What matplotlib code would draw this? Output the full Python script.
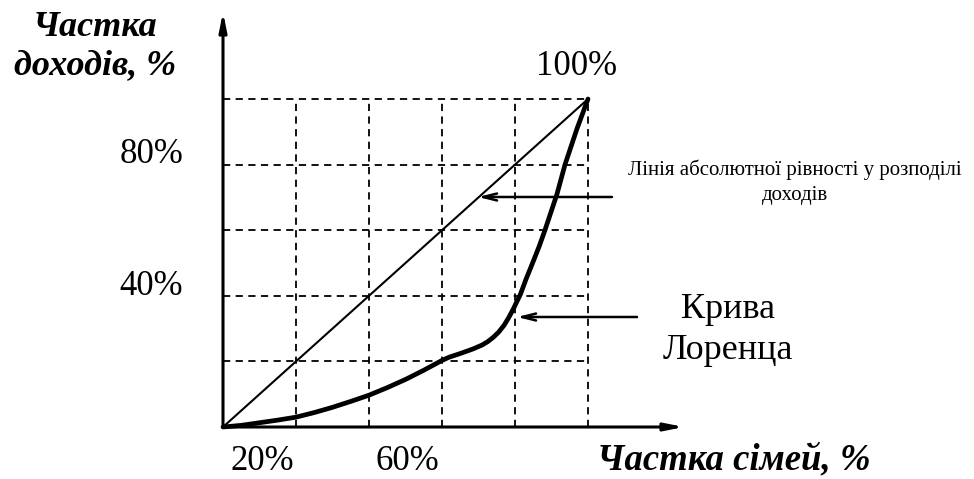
import matplotlib
matplotlib.use("Agg")
import matplotlib.pyplot as plt

# ---- data ----
grid_ticks = [20, 40, 60, 80, 100]
equality_x = [0, 100]
equality_y = [0, 100]
lorenz_x = [0, 5, 10, 15, 20, 25, 30, 35, 40, 45, 50, 55, 60, 62, 65, 68.5, 71, 72.5, 74, 75.5,
            77, 78.3, 79.5, 80.5, 81.5, 83, 85, 86.7, 88.2, 90, 91.5, 93.7, 95.5, 97, 98.5, 100]
lorenz_y = [0, 0.5, 1.3, 2.1, 3.0, 4.4, 6.0, 7.8, 9.7, 12.0, 14.5, 17.3, 20.3, 21.3, 22.4, 23.8,
            25.0, 26.0, 27.3, 28.9, 31.0, 33.4, 35.9, 38.2, 40.5, 45.0, 50.5, 55.3, 60.0, 66.0,
            71.0, 80.0, 86.0, 91.0, 95.5, 100]
y_tick_labels = ["80%", "40%"]
y_tick_py = [155, 286.5]
x_tick_labels = ["20%", "60%"]
x_tick_px = [262, 407.5]
top_label = "100%"
y_title = "Частка\nдоходів, %"
x_title = "Частка сімей, %"
eq_label = "Лінія абсолютної рівності у розподілі\nдоходів"
lorenz_label = "Крива\nЛоренца"

W, H = 974, 479
fig = plt.figure(figsize=(W / 100, H / 100), dpi=100)
ax = fig.add_axes([0, 0, 1, 1])
ax.set_axis_off()

# pixel mapping: x=0 at px 223, x=100 at px 588 ; y=0 at py 427, y=100 at py 99
sx = (588 - 223) / 100.0
sy = (427 - 99) / 100.0
ax.set_xlim(-223 / sx, (W - 223) / sx)
ax.set_ylim((427 - H) / sy, 427 / sy)

def px(p):
    return (p - 223) / sx

def py(p):
    return (427 - p) / sy

serif = ["Liberation Serif", "DejaVu Serif"]

# grid (dashed)
dash = (0, (4, 3))
for t in grid_ticks:
    ax.plot([t, t], [0, 100], color="black", lw=1.3, linestyle=dash)
    ax.plot([0, 100], [t, t], color="black", lw=1.3, linestyle=dash)

# axes with arrows
arrow_kw = dict(arrowstyle="-|>,head_length=1.1,head_width=0.22", color="black", lw=2.2,
                shrinkA=0, shrinkB=0)
ax.annotate("", xy=(0, py(12)), xytext=(0, 0), arrowprops=arrow_kw)
ax.annotate("", xy=(px(684), 0), xytext=(0, 0), arrowprops=arrow_kw)

# equality line
ax.plot(equality_x, equality_y, color="black", lw=1.5)
# Lorenz curve
ax.plot(lorenz_x, lorenz_y, color="black", lw=3.4, solid_capstyle="round", solid_joinstyle="round")

# pointer arrows
parr = dict(arrowstyle="->,head_length=1.0,head_width=0.25", color="black", lw=1.8,
            shrinkA=0, shrinkB=0)
ax.annotate("", xy=(px(478), py(197)), xytext=(px(612), py(197)), arrowprops=parr)
ax.annotate("", xy=(px(517), py(317)), xytext=(px(637), py(317)), arrowprops=parr)

# tick labels
for lab, p in zip(y_tick_labels, y_tick_py):
    ax.text(px(151.5), py(p), lab, family=serif, fontsize=25, ha="center", va="center")
for lab, p in zip(x_tick_labels, x_tick_px):
    ax.text(px(p), py(461.5), lab, family=serif, fontsize=25, ha="center", va="center")
ax.text(px(577), py(66.5), top_label, family=serif, fontsize=25, ha="center", va="center")

# titles
ax.text(px(95), py(47), y_title, family=serif, fontsize=26, fontweight="bold", fontstyle="italic",
        ha="center", va="center", linespacing=1.2)
ax.text(px(734), py(460), x_title, family=serif, fontsize=26.5, fontweight="bold", fontstyle="italic",
        ha="center", va="center")

# annotations
ax.text(px(795), py(182), eq_label, family=serif, fontsize=15, ha="center", va="center",
        linespacing=1.4)
ax.text(px(728), py(330), lorenz_label, family=serif, fontsize=26, ha="center", va="center",
        linespacing=1.3)

fig.savefig("out.png", dpi=100)
